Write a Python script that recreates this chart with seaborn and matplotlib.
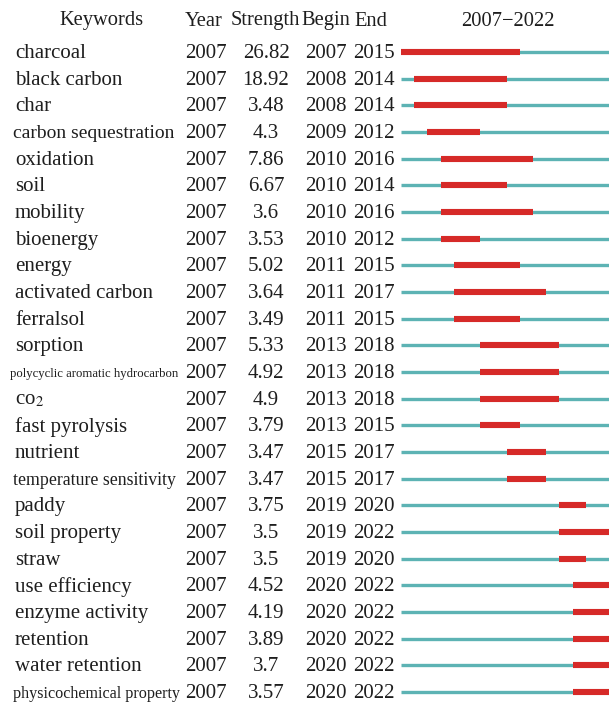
import matplotlib
matplotlib.use("Agg")
import matplotlib.pyplot as plt
import seaborn as sns

keywords = ["charcoal", "black carbon", "char", "carbon sequestration", "oxidation", "soil",
            "mobility", "bioenergy", "energy", "activated carbon", "ferralsol", "sorption",
            "polycyclic aromatic hydrocarbon", "co$_2$", "fast pyrolysis", "nutrient",
            "temperature sensitivity", "paddy", "soil property", "straw", "use efficiency",
            "enzyme activity", "retention", "water retention", "physicochemical property"]
years = [2007] * 25
strengths = ["26.82", "18.92", "3.48", "4.3", "7.86", "6.67", "3.6", "3.53", "5.02", "3.64",
             "3.49", "5.33", "4.92", "4.9", "3.79", "3.47", "3.47", "3.75", "3.5", "3.5",
             "4.52", "4.19", "3.89", "3.7", "3.57"]
begins = [2007, 2008, 2008, 2009, 2010, 2010, 2010, 2010, 2011, 2011, 2011, 2013, 2013, 2013,
          2013, 2015, 2015, 2019, 2019, 2019, 2020, 2020, 2020, 2020, 2020]
ends = [2015, 2014, 2014, 2012, 2016, 2014, 2016, 2012, 2015, 2017, 2015, 2018, 2018, 2018,
        2015, 2017, 2017, 2020, 2022, 2020, 2022, 2022, 2022, 2022, 2022]
kw_sizes = {"carbon sequestration": 14, "polycyclic aromatic hydrocarbon": 9.2,
            "temperature sensitivity": 12.8, "physicochemical property": 11.6}

sns.set_theme(style="white")
plt.rcParams["font.family"] = ["Liberation Serif", "DejaVu Serif"]
plt.rcParams["mathtext.fontset"] = "stix"

W, H = 609, 704
fig = plt.figure(figsize=(W / 100, H / 100), dpi=100)
tx = fig.add_axes([0, 0, 1, 1])
tx.set_xlim(0, W)
tx.set_ylim(H, 0)
tx.axis("off")

row0, dy = 52, 26.67
txtc = "#1e1e1e"
fs = 15
hfs = 14.8
# header
hy = 21
tx.text(102, hy, "Keywords", ha="center", va="center", fontsize=hfs, color=txtc)
tx.text(204, hy, "Year", ha="center", va="center", fontsize=hfs, color=txtc)
tx.text(265, hy, "Strength", ha="center", va="center", fontsize=hfs, color=txtc)
tx.text(326, hy, "Begin", ha="center", va="center", fontsize=hfs, color=txtc)
tx.text(371, hy, "End", ha="center", va="center", fontsize=hfs, color=txtc)
tx.text(508, hy, "2007\u22122022", ha="center", va="center", fontsize=hfs, color=txtc)

for i, kw in enumerate(keywords):
    y = row0 + i * dy + 1.5
    x0 = 15
    if kw in kw_sizes:
        x0 = 10 if kw.startswith("poly") else 13
    tx.text(x0, y, kw, ha="left", va="center", fontsize=kw_sizes.get(kw, fs), color=txtc)
    tx.text(206, y, str(years[i]), ha="center", va="center", fontsize=fs, color=txtc)
    tx.text(266, y, strengths[i], ha="center", va="center", fontsize=fs, color=txtc)
    tx.text(326, y, str(begins[i]), ha="center", va="center", fontsize=fs, color=txtc)
    tx.text(374, y, str(ends[i]), ha="center", va="center", fontsize=fs, color=txtc)

# timeline axes
left = 401
ax = fig.add_axes([left / W, 0, 1 - left / W, 1])
per_year = 13.2
ax.set_xlim(2007, 2007 + (W - left) / per_year)
ax.set_ylim((H - row0) / dy, -row0 / dy)
ax.axis("off")
teal = "#5db3b4"
red = "#d62a28"
n = len(keywords)
ax.hlines(range(n), [2007] * n, [2023] * n, color=teal, lw=2.4, capstyle="butt")
ax.hlines(range(n), begins, [e + 1 for e in ends], color=red, lw=4.4, capstyle="butt")

fig.savefig("out.png", dpi=100)
